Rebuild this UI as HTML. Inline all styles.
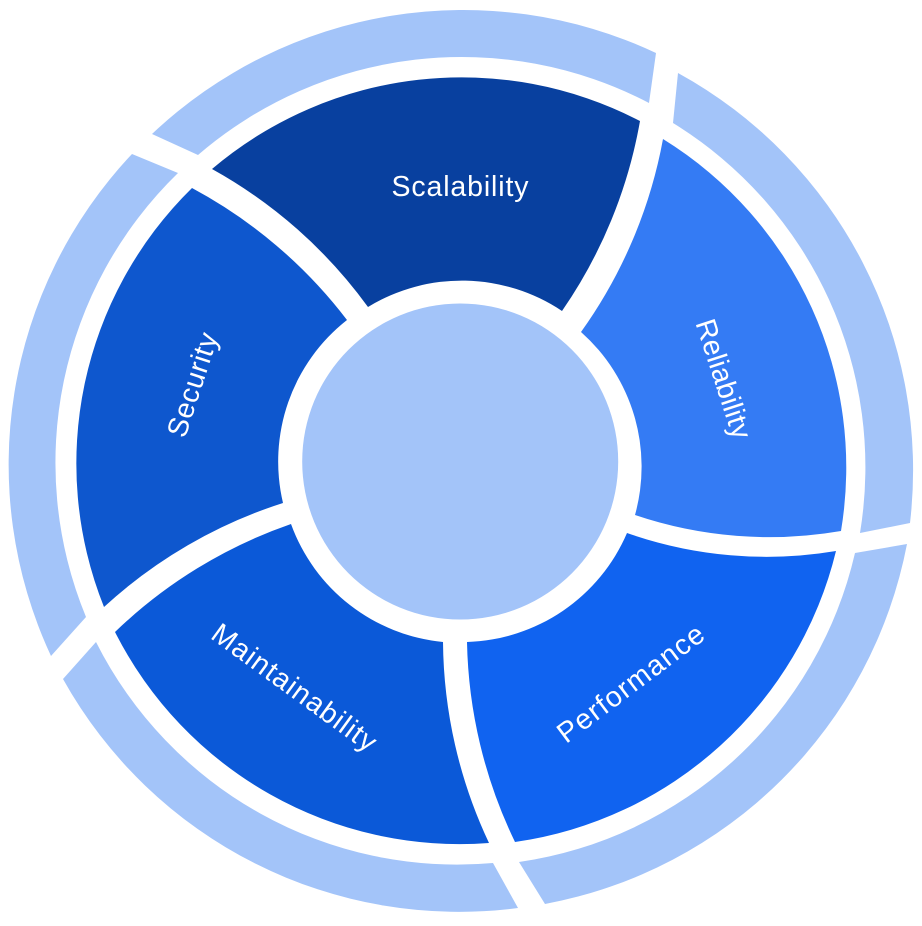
<!DOCTYPE html>
<html><head><meta charset="utf-8"><style>
html,body{margin:0;padding:0;background:#fff}
svg{display:block}
text{font-family:"Liberation Sans",sans-serif;font-size:28.5px;fill:#fff;text-anchor:middle}
</style></head><body>
<svg width="922" height="926" viewBox="0 0 922 926" xmlns="http://www.w3.org/2000/svg">
<rect width="922" height="926" fill="#fff"/>
<g fill="#a3c4f9">
<path d="M152 134A453 453 0 0 1 656 53L649 103A404 404 0 0 0 198 155Z"/>
<path d="M678 73A453 453 0 0 1 910 523L860 533A404 404 0 0 0 673 123Z"/>
<path d="M907 544A453 453 0 0 1 545 904L519 862A404 404 0 0 0 855 553Z"/>
<path d="M518 908A453 453 0 0 1 63 679L96 642A404 404 0 0 0 493 863Z"/>
<path d="M51 656A453 453 0 0 1 132 154L178 173A404 404 0 0 0 86 617Z"/>
<circle cx="460.200" cy="461.500" r="158"/>
</g>
<path fill="#08409f" d="M212 169A386 386 0 0 1 640 121A480 480 0 0 1 562 311A180 180 0 0 0 368 307A480 480 0 0 0 212 169Z"/>
<path fill="#347bf4" d="M663 139A386 386 0 0 1 841 531A420 420 0 0 1 635 515A180 180 0 0 0 581 332A480 480 0 0 0 663 139Z"/>
<path fill="#1063f0" d="M836 551A386 386 0 0 1 515 842A480 480 0 0 1 467 642A180 180 0 0 0 627 533A420 420 0 0 0 836 551Z"/>
<path fill="#0b59d8" d="M115 632A480 480 0 0 1 291 524A180 180 0 0 0 443 642A480 480 0 0 0 489 843A386 386 0 0 1 115 632Z"/>
<path fill="#0e57ce" d="M192 188A480 480 0 0 1 347 320A180 180 0 0 0 283 503A480 480 0 0 0 104 607A386 386 0 0 1 192 188Z"/>
<text x="460" y="196" textLength="137" lengthAdjust="spacing">Scalability</text>
<text transform="translate(723 379) rotate(72)" y="9" textLength="124" lengthAdjust="spacing">Reliability</text>
<text transform="translate(631 684) rotate(-37)" y="9" textLength="176" lengthAdjust="spacing">Performance</text>
<text transform="translate(294 688) rotate(36)" y="9" textLength="196" lengthAdjust="spacing">Maintainability</text>
<text transform="translate(193 385) rotate(-72)" y="9" textLength="108" lengthAdjust="spacing">Security</text>
</svg>
</body></html>
